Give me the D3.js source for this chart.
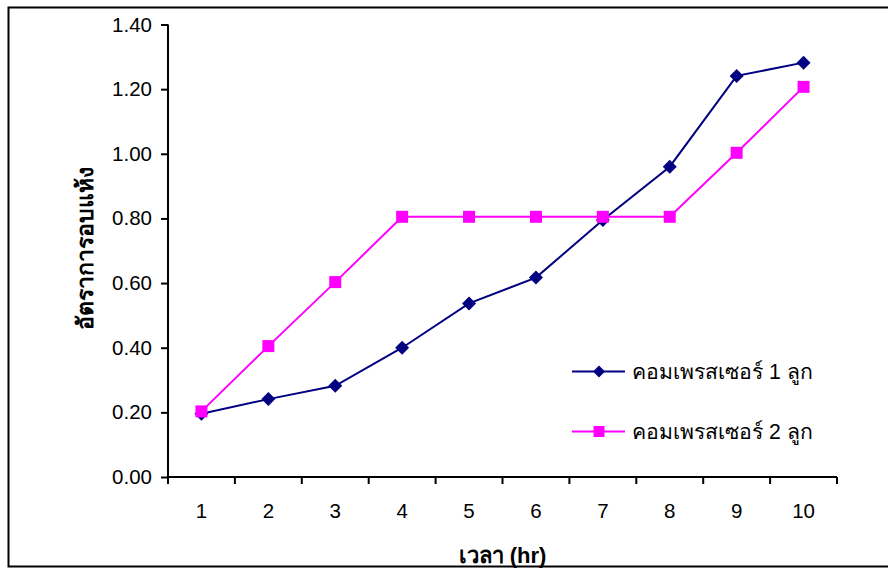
<!DOCTYPE html>
<html>
<head>
<meta charset="utf-8">
<script src="https://cdn.jsdelivr.net/npm/d3@7"></script>
<style>
  html, body { margin: 0; padding: 0; background: #fff; }
  svg { display: block; font-family: "Liberation Sans", Arial, sans-serif; }
</style>
</head>
<body>
<svg id="chart" width="888" height="568"></svg>
<script>
// Drying rate per hour for one vs. two compressors
const hours = ["1", "2", "3", "4", "5", "6", "7", "8", "9", "10"];
const oneCompressor = [0.196, 0.241, 0.282, 0.40, 0.537, 0.617, 0.795, 0.96, 1.241, 1.282];
const twoCompressors = [0.203, 0.405, 0.603, 0.805, 0.805, 0.805, 0.805, 0.805, 1.003, 1.207];
const yTicks = [0, 0.2, 0.4, 0.6, 0.8, 1.0, 1.2, 1.4];
const seriesNames = ["คอมเพรสเซอร์ 1 ลูก", "คอมเพรสเซอร์ 2 ลูก"];
const xTitle = "เวลา (hr)";
const yTitle = "อัตราการอบแห้ง";

const svg = d3.select("#chart");
const W = 888, H = 568;
const plot = { left: 168, right: 837, top: 24.5, bottom: 477 };

// Outer frame (top, left, bottom edges)
svg.append("path")
  .attr("d", `M${W + 2},7.5 H8.5 V566.5 H${W + 2}`)
  .attr("fill", "none").attr("stroke", "#000").attr("stroke-width", 2);

const x = d3.scaleBand().domain(hours).range([plot.left, plot.right]);
const y = d3.scaleLinear().domain([0, 1.4]).range([plot.bottom, plot.top]);

// Y axis
const yAxis = svg.append("g")
  .attr("transform", `translate(${plot.left},0)`)
  .call(d3.axisLeft(y).tickValues(yTicks).tickFormat(d3.format(".2f")).tickSize(7).tickPadding(9));
yAxis.select(".domain").attr("stroke-width", 2).attr("d", `M0,${plot.top}V${plot.bottom}`);
yAxis.selectAll(".tick line").attr("stroke-width", 2);
yAxis.selectAll(".tick text").attr("font-size", 20.5).attr("fill", "#000");

// X axis: ticks sit between categories
const xAxis = svg.append("g")
  .attr("transform", `translate(0,${plot.bottom})`)
  .call(d3.axisBottom(x).tickSize(0).tickPadding(26));
xAxis.select(".domain").attr("stroke-width", 2).attr("d", `M${plot.left},0H${plot.right}`);
xAxis.selectAll(".tick text").attr("font-size", 20.5).attr("fill", "#000");
const bounds = hours.map(h => x(h)).concat([x(hours[hours.length - 1]) + x.bandwidth()]);
xAxis.selectAll(".sep").data(bounds).join("line")
  .attr("class", "sep")
  .attr("x1", d => d).attr("x2", d => d)
  .attr("y1", 0).attr("y2", 7)
  .attr("stroke", "#000").attr("stroke-width", 2);

const cx = h => x(h) + x.bandwidth() / 2;
const line = d3.line().x((d, i) => cx(hours[i])).y(d => y(d));

const series = [
  { values: oneCompressor, color: "#000080", shape: "diamond" },
  { values: twoCompressors, color: "#FF00FF", shape: "square" }
];

function marker(g, shape, color, px, py, s) {
  if (shape === "diamond") {
    g.append("path")
      .attr("d", `M${px},${py - s}L${px + s},${py}L${px},${py + s}L${px - s},${py}Z`)
      .attr("fill", color);
  } else {
    g.append("rect")
      .attr("x", px - s).attr("y", py - s)
      .attr("width", 2 * s).attr("height", 2 * s)
      .attr("fill", color);
  }
}

series.forEach(s => {
  svg.append("path")
    .datum(s.values)
    .attr("d", line)
    .attr("fill", "none")
    .attr("stroke", s.color)
    .attr("stroke-width", 2);
});
series.forEach(s => {
  const g = svg.append("g");
  s.values.forEach((v, i) => marker(g, s.shape, s.color, cx(hours[i]), y(v), s.shape === "diamond" ? 7 : 6));
});

// Legend
const legendRows = [371.5, 431.5];
series.forEach((s, i) => {
  const g = svg.append("g");
  g.append("line")
    .attr("x1", 572).attr("x2", 625)
    .attr("y1", legendRows[i]).attr("y2", legendRows[i])
    .attr("stroke", s.color).attr("stroke-width", 2);
  marker(g, s.shape, s.color, 599, legendRows[i], s.shape === "diamond" ? 6 : 5.5);
  g.append("text")
    .attr("x", 632).attr("y", legendRows[i] + 7.5)
    .attr("font-size", 21.2)
    .attr("fill", "#000")
    .text(seriesNames[i]);
});

// Axis titles
svg.append("text")
  .attr("x", (plot.left + plot.right) / 2).attr("y", 563)
  .attr("text-anchor", "middle")
  .attr("font-size", 22).attr("font-weight", "bold")
  .text(xTitle);

svg.append("text")
  .attr("transform", `translate(93,${(plot.top + plot.bottom) / 2 - 2}) rotate(-90)`)
  .attr("text-anchor", "middle")
  .attr("font-size", 23).attr("font-weight", "bold")
  .text(yTitle);
</script>
</body>
</html>
